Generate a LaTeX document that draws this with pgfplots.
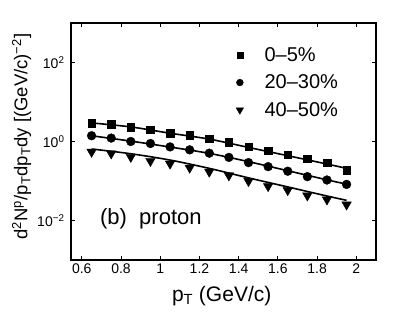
\documentclass[border=0pt]{standalone}
\usepackage{fontspec}
\setmainfont{Liberation Sans}
\usepackage{pgfplots}
\pgfplotsset{compat=1.18}
\begin{document}
\begin{tikzpicture}
\begin{axis}[
  scale only axis, width=305pt, height=237pt,
  ymode=log, xmin=0.545, xmax=2.1, ymin=1e-3, ymax=1e3,
  xtick={0.6,0.8,1,1.2,1.4,1.6,1.8,2},
  xticklabels={0.6,0.8,1,1.2,1.4,1.6,1.8,2},
  ytick={1e-2,1,1e2},
  yticklabels={10\textsuperscript{−2},10\textsuperscript{0},10\textsuperscript{2}},
  yminorticks=false, xminorticks=false,
  tick align=inside, major tick length=4pt,
  axis line style={line width=1.3pt},
  tick style={line width=1pt, black},
  ticklabel style={font=\fontsize{14}{15}\selectfont},
  yticklabel style={xshift=-3pt},
  /pgf/number format/assume math mode=true,
  xlabel={p\textsubscript{T} (GeV/c)},
  xlabel style={at={(axis description cs:0.494,-0.176)}, anchor=base, font=\fontsize{21}{24}\selectfont},
  ylabel={d\textsuperscript{2}N\textsuperscript{p}/p\textsubscript{T}dp\textsubscript{T}dy [(GeV/c)\textsuperscript{−2}]},
  ylabel style={at={(axis description cs:-0.162,0.521)}, anchor=center, font=\fontsize{18.5}{20}\selectfont},
  legend style={draw=none, fill=none, at={(axis description cs:0.531,0.915)}, anchor=north west,
    font=\fontsize{20}{21}\selectfont, row sep=8pt, legend cell align=left},
  legend image post style={scale=0.78},
]
\addplot[only marks, mark=square*, mark size=3.8pt, black] coordinates {
(0.65,2.94) (0.75,2.71) (0.85,2.32) (0.95,1.99) (1.05,1.64) (1.15,1.42) (1.25,1.17)
(1.35,0.965) (1.45,0.746) (1.55,0.59) (1.65,0.467) (1.75,0.369) (1.85,0.292) (1.95,0.19)};
\addlegendentry{\hspace{19pt}0–5\%}
\addplot[only marks, mark=*, mark size=4.4pt, black] coordinates {
(0.65,1.40) (0.75,1.22) (0.85,1.00) (0.95,0.89) (1.05,0.73) (1.15,0.615) (1.25,0.507)
(1.35,0.396) (1.45,0.292) (1.55,0.231) (1.65,0.177) (1.75,0.129) (1.85,0.106) (1.95,0.082)};
\addlegendentry{\hspace{19pt}20–30\%}
\addplot[only marks, mark=triangle*, mark size=5.5pt, mark options={rotate=180}, black] coordinates {
(0.65,0.545) (0.75,0.495) (0.85,0.405) (0.95,0.32) (1.05,0.274) (1.15,0.216) (1.25,0.171)
(1.35,0.138) (1.45,0.099) (1.55,0.0738) (1.65,0.0584) (1.75,0.0428) (1.85,0.0339) (1.95,0.0252)};
\addlegendentry{\hspace{19pt}40–50\%}
\addplot[smooth, line width=1.6pt, black, forget plot] coordinates {
(0.65,2.95) (0.85,2.34) (1.05,1.62) (1.25,1.15) (1.45,0.708) (1.65,0.437) (1.85,0.269) (1.95,0.209)};
\addplot[smooth, line width=1.6pt, black, forget plot] coordinates {
(0.65,1.396) (0.85,1.023) (1.05,0.724) (1.25,0.501) (1.45,0.309) (1.65,0.182) (1.85,0.107) (1.95,0.0832)};
\addplot[smooth, line width=1.6pt, black, forget plot] coordinates {
(0.65,0.646) (0.85,0.490) (1.05,0.339) (1.25,0.209) (1.45,0.120) (1.65,0.0708) (1.85,0.0417) (1.95,0.0324)};
\node[anchor=base west, font=\fontsize{22}{24}\selectfont] at (axis description cs:0.084,0.148) {(b)\ \ proton};
\end{axis}
\pgfresetboundingbox
\path[use as bounding box] ([xshift=-71pt,yshift=-53pt]current axis.south west) rectangle ([xshift=39pt,yshift=23pt]current axis.north east);
\end{tikzpicture}
\end{document}
